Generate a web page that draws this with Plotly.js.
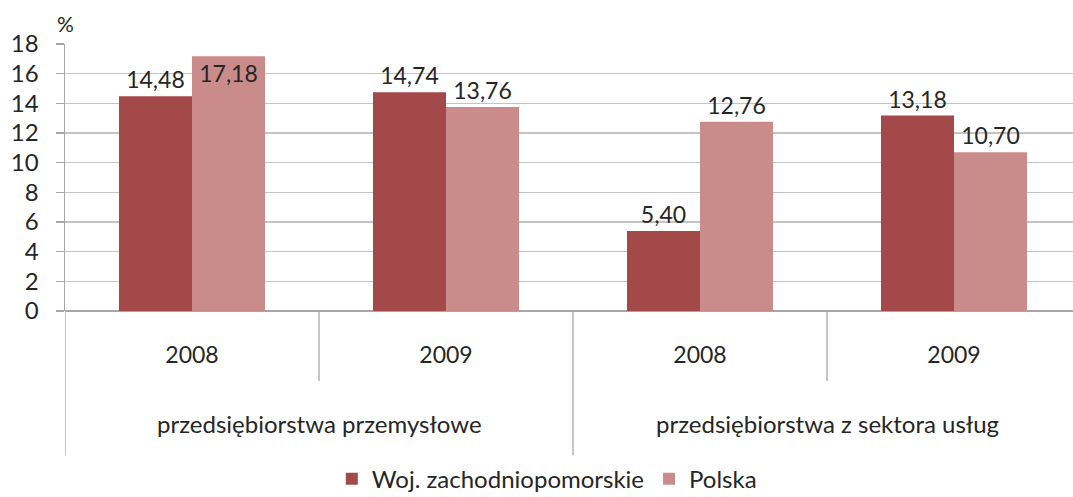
<!DOCTYPE html>
<html>
<head>
<meta charset="utf-8">
<script src="https://cdn.plot.ly/plotly-3.0.1.min.js"></script>
<style>html,body{margin:0;padding:0;background:#fff;}#chart{width:1073px;height:497px;}</style>
</head>
<body>
<div id="chart"></div>
<script>
const years = ['2008', '2009', '2008', '2009'];
const groups = ['przedsiębiorstwa przemysłowe', 'przedsiębiorstwa z sektora usług'];
const seriesNames = ['Woj. zachodniopomorskie', 'Polska'];
const zachodniopomorskie = [14.48, 14.74, 5.40, 13.18];
const polska = [17.18, 13.76, 12.76, 10.70];
const yTicks = [0, 2, 4, 6, 8, 10, 12, 14, 16, 18];

const FONT = 'Lato, "Open Sans", sans-serif';
const TXT = '#262626';
const xIdx = years.map((_, i) => i);
const fmt = v => v.toFixed(2).replace('.', ',');

const traces = [
  {
    type: 'bar', name: seriesNames[0], x: xIdx, y: zachodniopomorskie,
    marker: {color: '#A4494A'},
    text: zachodniopomorskie.map(fmt), textposition: 'outside', cliponaxis: false,
    textfont: {family: FONT, size: 23, color: TXT}, hoverinfo: 'none'
  },
  {
    type: 'bar', name: seriesNames[1], x: xIdx, y: polska,
    marker: {color: '#C98C8B'},
    text: polska.map(fmt),
    textposition: polska.map(v => v > 16.5 ? 'inside' : 'outside'),
    insidetextanchor: 'end', cliponaxis: false, constraintext: 'none',
    textfont: {family: FONT, size: 23, color: TXT},
    insidetextfont: {family: FONT, size: 23, color: TXT},
    outsidetextfont: {family: FONT, size: 23, color: TXT},
    hoverinfo: 'none'
  }
];

const annotations = groups.map((g, i) => ({
  text: g, x: i * 2 + 0.5, xref: 'x', y: -0.42, yref: 'paper',
  showarrow: false, font: {family: FONT, size: 24, color: TXT},
  xanchor: 'center', yanchor: 'middle'
}));
annotations.push({
  text: '%', x: 0, xref: 'paper', y: 1.075, yref: 'paper',
  showarrow: false, font: {family: FONT, size: 21, color: TXT},
  xanchor: 'center', yanchor: 'middle'
});

const lineStyle = {color: '#A6A6A6', width: 1.3};
const shapes = [
  {type: 'line', xref: 'x', yref: 'paper', x0: -0.5, x1: -0.5, y0: 0, y1: -0.54, line: lineStyle},
  {type: 'line', xref: 'x', yref: 'paper', x0: 0.5, x1: 0.5, y0: 0, y1: -0.262, line: lineStyle},
  {type: 'line', xref: 'x', yref: 'paper', x0: 1.5, x1: 1.5, y0: 0, y1: -0.54, line: lineStyle},
  {type: 'line', xref: 'x', yref: 'paper', x0: 2.5, x1: 2.5, y0: 0, y1: -0.262, line: lineStyle}
];

const layout = {
  width: 1073, height: 497,
  margin: {l: 65, r: 0, t: 44, b: 186, autoexpand: false},
  paper_bgcolor: '#ffffff', plot_bgcolor: '#ffffff',
  barmode: 'group', bargap: 0.425, bargroupgap: 0,
  showlegend: true,
  legend: {
    orientation: 'h', x: 0.478, xanchor: 'center', y: -0.63, yanchor: 'middle',
    font: {family: FONT, size: 24, color: TXT}, itemwidth: 30, tracegroupgap: 0
  },
  xaxis: {
    range: [-0.5, 3.4685], tickvals: xIdx, ticktext: years,
    showgrid: false, zeroline: false, showline: false, ticks: '',
    ticklabelstandoff: 28,
    tickfont: {family: FONT, size: 23, color: TXT}, fixedrange: true
  },
  yaxis: {
    range: [0, 18], tickvals: yTicks, ticktext: yTicks.map(String),
    showgrid: true, gridcolor: '#C4C4C4', gridwidth: 1.3,
    zeroline: true, zerolinecolor: '#A6A6A6', zerolinewidth: 1.5,
    showline: true, linecolor: '#A6A6A6', linewidth: 1.5,
    ticks: 'outside', ticklen: 8, tickcolor: '#A6A6A6', tickwidth: 1.3,
    ticklabelstandoff: 12,
    tickfont: {family: FONT, size: 24, color: TXT}, fixedrange: true
  },
  annotations: annotations,
  shapes: shapes,
  font: {family: FONT, color: TXT}
};

Plotly.newPlot('chart', traces, layout, {displayModeBar: false, staticPlot: true});
</script>
</body>
</html>
